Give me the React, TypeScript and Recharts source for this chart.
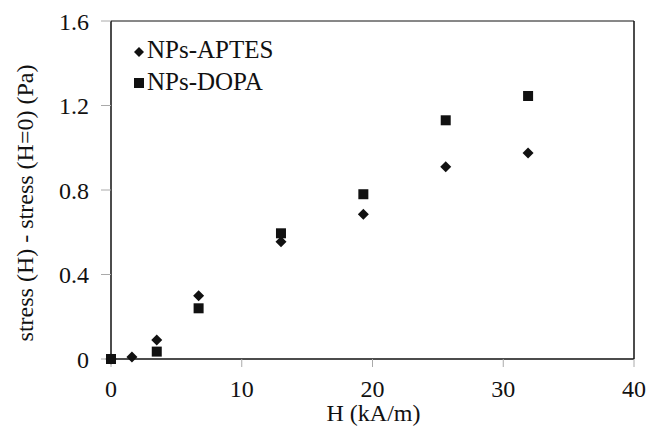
import React from 'react'
import {
  Legend,
  ReferenceLine,
  Scatter,
  ScatterChart,
  XAxis,
  YAxis,
} from 'recharts'

// H (kA/m) values per series and the stress difference (Pa)
const aptesH = [0, 1.6, 3.5, 6.7, 13, 19.3, 25.6, 31.9]
const aptesStress = [0, 0.01, 0.09, 0.3, 0.555, 0.685, 0.91, 0.975]
const dopaH = [0, 3.5, 6.7, 13, 19.3, 25.6, 31.9]
const dopaStress = [0, 0.035, 0.24, 0.595, 0.78, 1.13, 1.245]

const xTicks = [0, 10, 20, 30, 40]
const yTicks = [0, 0.4, 0.8, 1.2, 1.6]
const seriesNames = ['NPs-APTES', 'NPs-DOPA']

const FONT = '"Liberation Serif", "Times New Roman", serif'

const aptesData = aptesH.map((x, i) => ({ x, y: aptesStress[i] }))
const dopaData = dopaH.map((x, i) => ({ x, y: dopaStress[i] }))

const Diamond = ({ cx, cy, r = 5.5 }: any) => (
  <path d={`M${cx},${cy - r}L${cx + r},${cy}L${cx},${cy + r}L${cx - r},${cy}Z`} fill="#111" />
)

const Square = ({ cx, cy, r = 5 }: any) => (
  <rect x={cx - r} y={cy - r} width={2 * r} height={2 * r} fill="#111" />
)

const LegendBox = () => (
  <svg width={170} height={70} style={{ display: 'block' }}>
    <Diamond cx={11} cy={16} r={5} />
    <text x={19} y={22} style={{ fontFamily: FONT }} fontSize={25} fill="#111">
      {seriesNames[0]}
    </text>
    <Square cx={11} cy={47} r={5} />
    <text x={19} y={54} style={{ fontFamily: FONT }} fontSize={25} fill="#111">
      {seriesNames[1]}
    </text>
  </svg>
)

const axisTick = { fill: '#111', fontSize: 24, style: { fontFamily: FONT } }

export default function App() {
  return (
    <div style={{ position: 'absolute', left: 0, top: 0, background: '#fff' }}>
      <ScatterChart width={662} height={428} margin={{ top: 21, right: 28, bottom: 0, left: 0 }}>
        <XAxis
          type="number"
          dataKey="x"
          domain={[0, 40]}
          ticks={xTicks}
          height={69}
          tickSize={8}
          tickMargin={13}
          tick={axisTick}
          axisLine={{ stroke: '#111', strokeWidth: 1.5 }}
          tickLine={{ stroke: '#aaa' }}
          label={{
            content: ({ viewBox }: any) => (
              <text
                x={viewBox.x + viewBox.width / 2 + 1}
                y={viewBox.y + 62}
                textAnchor="middle"
                style={{ fontFamily: FONT }}
                fontSize={24}
                fill="#111"
              >
                H (kA/m)
              </text>
            ),
          }}
        />
        <YAxis
          type="number"
          dataKey="y"
          domain={[0, 1.6]}
          ticks={yTicks}
          width={111}
          tickSize={10}
          tickMargin={12}
          tick={axisTick}
          axisLine={{ stroke: '#111', strokeWidth: 1.5 }}
          tickLine={{ stroke: '#aaa' }}
          label={{
            content: ({ viewBox }: any) => {
              const x = 33
              const y = viewBox.y + viewBox.height / 2 + 13
              return (
                <text
                  x={x}
                  y={y}
                  transform={`rotate(-90 ${x} ${y})`}
                  textAnchor="middle"
                  style={{ fontFamily: FONT }}
                  fontSize={24}
                  fill="#111"
                >
                  stress (H) - stress (H=0) (Pa)
                </text>
              )
            },
          }}
        />
        <ReferenceLine y={1.6} stroke="#111" strokeWidth={1} />
        <ReferenceLine x={40} stroke="#111" strokeWidth={1.5} />
        <Legend
          layout="vertical"
          align="center"
          verticalAlign="middle"
          wrapperStyle={{ left: 128, top: 36, width: 170 }}
          content={() => <LegendBox />}
        />
        <Scatter
          name={seriesNames[0]}
          data={aptesData}
          shape={(p: any) => <Diamond cx={p.cx} cy={p.cy} />}
          isAnimationActive={false}
        />
        <Scatter
          name={seriesNames[1]}
          data={dopaData}
          shape={(p: any) => <Square cx={p.cx} cy={p.cy} />}
          isAnimationActive={false}
        />
      </ScatterChart>
    </div>
  )
}
